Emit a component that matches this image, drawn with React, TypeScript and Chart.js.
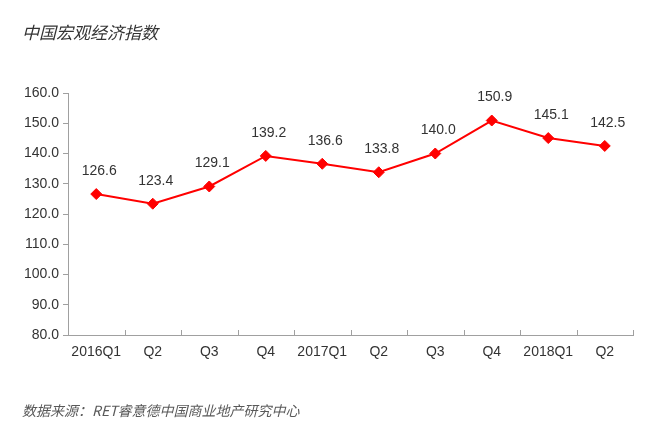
import React, { useEffect, useRef } from "react";
import { Chart, registerables } from "chart.js";

Chart.register(...registerables);

const titleText = "中国宏观经济指数";
const sourceText = "数据来源：RET睿意德中国商业地产研究中心";
const categories = ["2016Q1", "Q2", "Q3", "Q4", "2017Q1", "Q2", "Q3", "Q4", "2018Q1", "Q2"];
const indexValues = [126.6, 123.4, 129.1, 139.2, 136.6, 133.8, 140.0, 150.9, 145.1, 142.5];
const yMin = 80;
const yMax = 160;
const yStep = 10;

const NUM_FONT = "'Liberation Sans', Arial, sans-serif";
const CJK_FONT = "'Noto Sans CJK SC', 'Liberation Sans', sans-serif";
const AXIS_COLOR = "#a0a0a0";
const TEXT_COLOR = "#333333";

const decorPlugin = {
  id: "decor",
  afterDraw(chart: any) {
    const ctx = chart.ctx;
    ctx.save();
    // title
    ctx.fillStyle = "#333333";
    ctx.font = "italic 17px " + CJK_FONT;
    ctx.textAlign = "left";
    ctx.textBaseline = "middle";
    ctx.fillText(titleText, 22, 33);
    // source
    ctx.fillStyle = "#595959";
    ctx.font = "italic 14px " + CJK_FONT;
    ctx.fillText(sourceText, 22, 411);
    // inner x tick marks at category boundaries
    const xs = chart.scales.x;
    const bottom = chart.chartArea.bottom;
    ctx.strokeStyle = AXIS_COLOR;
    ctx.lineWidth = 1;
    const n = categories.length;
    for (let i = 1; i <= n; i++) {
      let x;
      if (i < n) {
        x = (xs.getPixelForTick(i - 1) + xs.getPixelForTick(i)) / 2;
      } else {
        x = xs.right;
      }
      x = Math.round(x) + 0.5;
      ctx.beginPath();
      ctx.moveTo(x, bottom);
      ctx.lineTo(x, bottom - 5);
      ctx.stroke();
    }
    ctx.restore();
  },
  afterDatasetsDraw(chart: any) {
    const ctx = chart.ctx;
    const meta = chart.getDatasetMeta(0);
    ctx.save();
    ctx.fillStyle = TEXT_COLOR;
    ctx.font = "14px " + NUM_FONT;
    ctx.textAlign = "center";
    ctx.textBaseline = "middle";
    meta.data.forEach((p: any, i: number) => {
      ctx.fillText(indexValues[i].toFixed(1), p.x + 3, p.y - 23);
    });
    ctx.restore();
  },
};

export default function App() {
  const canvasRef = useRef<HTMLCanvasElement | null>(null);

  useEffect(() => {
    if (!canvasRef.current) return;
    const chart = new Chart(canvasRef.current, {
      type: "line",
      data: {
        labels: categories,
        datasets: [
          {
            data: indexValues,
            borderColor: "#ff0000",
            backgroundColor: "#ff0000",
            borderWidth: 2,
            pointStyle: "rectRot",
            pointRadius: 5.5,
            pointBackgroundColor: "#ff0000",
            pointBorderColor: "#ff0000",
            pointBorderWidth: 1,
            tension: 0,
          },
        ],
      },
      options: {
        animation: false,
        responsive: false,
        maintainAspectRatio: false,
        layout: { padding: { left: 0, right: 17, top: 93, bottom: 75 } },
        plugins: {
          legend: { display: false },
          tooltip: { enabled: false },
          title: { display: false },
        },
        scales: {
          x: {
            type: "category",
            offset: true,
            grid: { display: false, drawTicks: false },
            border: { display: true, color: AXIS_COLOR, width: 1 },
            ticks: {
              color: TEXT_COLOR,
              font: { family: NUM_FONT, size: 14 },
              padding: 9,
              maxRotation: 0,
              autoSkip: false,
            },
            afterFit(scale: any) {
              scale.height = 30;
            },
          },
          y: {
            min: yMin,
            max: yMax,
            grid: {
              display: true,
              drawOnChartArea: false,
              drawTicks: true,
              tickLength: 5,
              color: AXIS_COLOR,
            },
            border: { display: true, color: AXIS_COLOR, width: 1 },
            ticks: {
              stepSize: yStep,
              color: TEXT_COLOR,
              font: { family: NUM_FONT, size: 14 },
              padding: 4,
              callback: (v: any) => Number(v).toFixed(1),
            },
            afterFit(scale: any) {
              scale.width = 68;
            },
          },
        },
      },
      plugins: [decorPlugin],
    });
    return () => chart.destroy();
  }, []);

  return (
    <div style={{ position: "fixed", left: 0, top: 0, width: 650, height: 440, background: "#fff" }}>
      <canvas ref={canvasRef} width={650} height={440} style={{ width: 650, height: 440 }} />
    </div>
  );
}
